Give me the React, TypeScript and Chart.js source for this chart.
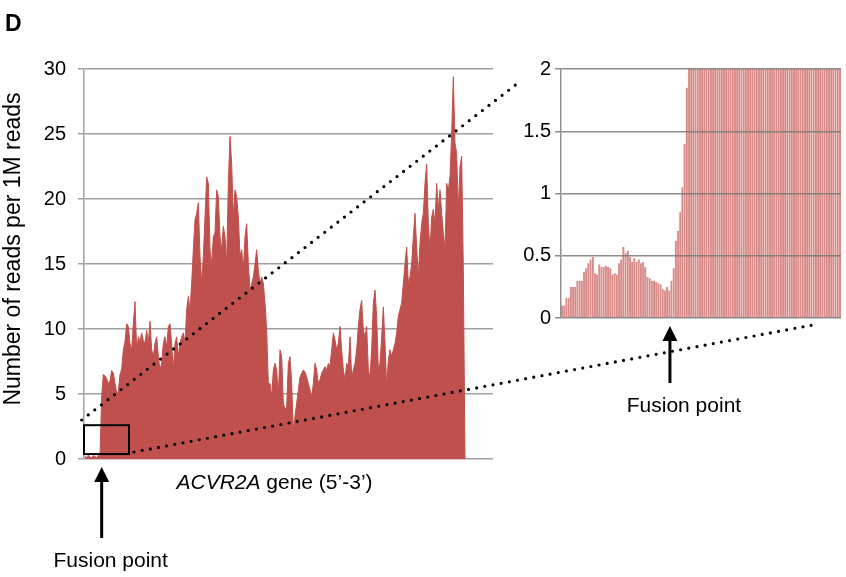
import React, { useEffect, useRef } from 'react';
import { Chart, registerables } from 'chart.js';
Chart.register(...registerables);

// ---- Data ----
// Coverage along ACVR2A (reads per 1M reads), equally spaced bins
const MAIN_VALUES = [
  0.2, 0.1, 0.3, 0.15, 0.1, 0.25, 0.2, 0.1, 0.3, 0.2,
  4.8, 6.5, 6.4, 6.2, 5.8, 6.0, 6.8, 6.6, 5.8, 5.1,
  5.2, 6.5, 6.9, 8.4, 9.0, 10.4, 10.2, 8.9, 8.4, 10.4,
  12.1, 8.4, 9.4, 9.0, 9.7, 9.1, 8.9, 9.9, 8.9, 10.6,
  8.4, 7.9, 8.9, 9.4, 7.9, 6.85, 7.4, 8.9, 9.4, 8.6,
  10.2, 10.4, 8.9, 6.85, 8.9, 9.4, 7.9, 8.9, 9.4, 9.7,
  8.9, 11.5, 12.5, 11.5, 13.5, 16.1, 18.4, 18.9, 19.7, 15.6,
  13.5, 15.6, 18.6, 21.7, 21.2, 16.1, 15.0, 17.1, 17.4, 20.7,
  20.2, 17.1, 16.1, 17.9, 17.1, 15.0, 21.2, 24.8, 22.7, 18.6,
  20.7, 20.2, 18.6, 15.6, 16.1, 14.5, 17.1, 18.1, 15.0, 13.0,
  13.5, 14.0, 15.0, 16.1, 14.5, 13.5, 14.0, 13.5, 12.0, 9.9,
  5.8, 5.8, 4.8, 6.85, 7.36, 6.85, 4.8, 8.4, 7.9, 4.3,
  3.8, 4.0, 7.36, 7.87, 5.8, 2.2, 3.3, 4.3, 5.3, 6.3,
  6.6, 6.85, 6.7, 6.3, 5.8, 5.3, 4.8, 5.8, 7.36, 6.85,
  5.8, 6.1, 6.6, 6.85, 7.1, 6.85, 7.36, 7.1, 8.4, 9.7,
  9.15, 8.4, 8.9, 10.2, 8.4, 6.85, 6.1, 7.36, 7.1, 9.4,
  6.3, 6.85, 7.36, 8.4, 10.2, 11.5, 12.2, 9.9, 9.4, 10.2,
  6.85, 6.3, 8.4, 12.0, 13.0, 11.0, 6.85, 7.36, 9.4, 11.7,
  8.9, 5.6, 7.6, 8.4, 7.9, 8.4, 8.9, 9.7, 11.0, 11.5,
  12.0, 13.5, 15.0, 16.3, 13.5, 14.0, 15.0, 17.1, 18.9, 16.3,
  14.0, 16.6, 18.1, 18.9, 21.2, 22.7, 18.1, 16.1, 18.6, 19.2,
  18.1, 21.2, 19.2, 20.7, 18.9, 17.4, 16.1, 21.2, 20.7, 21.7,
  25.0, 29.4, 24.3, 23.5, 19.2, 22.5, 23.3, 14.5, 0,
];
const MAIN_Y_TICKS = [0, 5, 10, 15, 20, 25, 30];

// Zoomed-in view of the 5' end (fusion region)
const INSET_VALUES = [
  0.1, 0.1, 0.16, 0.16, 0.25, 0.25, 0.25, 0.3, 0.3, 0.3,
  0.37, 0.4, 0.44, 0.47, 0.49, 0.36, 0.35, 0.43, 0.41, 0.41,
  0.42, 0.41, 0.4, 0.35, 0.36, 0.35, 0.44, 0.47, 0.57, 0.52,
  0.54, 0.49, 0.45, 0.48, 0.45, 0.47, 0.44, 0.45, 0.41, 0.33,
  0.32, 0.3, 0.3, 0.29, 0.28, 0.27, 0.23, 0.22, 0.25, 0.22,
  0.3, 0.4, 0.62, 0.7, 0.85, 1.05, 1.4, 1.85, 2.1, 2.6,
  3.1, 3.8, 4.4, 5.0, 5.5, 6.1, 5.9, 6.3, 6.0, 5.6,
  5.9, 6.4, 6.2, 6.6, 6.1, 5.8, 5.2, 5.5, 6.0, 6.4,
  6.8, 6.5, 6.1, 5.9, 5.4, 5.1, 5.6, 6.2, 6.5, 6.9,
  7.2, 6.8, 6.3, 6.0, 6.6, 7.0, 7.4, 7.1, 6.6, 6.2,
  6.5, 6.9, 7.3, 7.7, 7.2, 6.8, 7.0, 7.5, 7.9, 8.2,
  7.8, 7.4, 7.1, 7.6, 8.0, 8.4, 8.1, 7.7, 8.3, 8.8,
  9.2, 8.6, 8.1, 8.5, 9.0, 9.4, 9.1, 8.7,
];
const INSET_LABELS = INSET_VALUES.map((_, i) => String(i + 1));
const INSET_Y_TICKS = [0, 0.5, 1, 1.5, 2];

// Annotation anchors (in data units)
const FUSION_MAIN_INDEX = 10;
const FUSION_INSET_INDEX = 49.3;
const ZOOM_BOX = { x0: -0.6, x1: 26.4, y0: 0.38, y1: 2.6 };

const FONT = '"Liberation Sans", Arial, sans-serif';
const GRID = '#a0a0a0';
const MAIN_RED = '#c0504d';
const INSET_RED = 'rgb(215,138,136)';
const INSET_EDGE = 'rgba(246,214,212,0.9)';

function drawArrow(ctx: CanvasRenderingContext2D, x: number, tipY: number, bottomY: number) {
  ctx.save();
  ctx.setLineDash([]);
  ctx.strokeStyle = '#000';
  ctx.fillStyle = '#000';
  ctx.lineWidth = 3;
  ctx.lineCap = 'butt';
  ctx.beginPath();
  ctx.moveTo(x, bottomY);
  ctx.lineTo(x, tipY + 12);
  ctx.stroke();
  ctx.beginPath();
  ctx.moveTo(x, tipY);
  ctx.lineTo(x - 7.5, tipY + 15);
  ctx.lineTo(x + 7.5, tipY + 15);
  ctx.closePath();
  ctx.fill();
  ctx.restore();
}

function makeOverlay(main: Chart) {
  return {
    id: 'overlay',
    afterDraw(chart: any) {
      const ctx: CanvasRenderingContext2D = chart.ctx;
      const mx: any = main.scales.x;
      const my: any = main.scales.y;
      const ix: any = chart.scales.x;
      const iy: any = chart.scales.y;
      ctx.save();

      // zoom box on main chart
      const bx0 = mx.getPixelForValue(ZOOM_BOX.x0);
      const bx1 = mx.getPixelForValue(ZOOM_BOX.x1);
      const by0 = my.getPixelForValue(ZOOM_BOX.y0);
      const by1 = my.getPixelForValue(ZOOM_BOX.y1);
      ctx.strokeStyle = '#000';
      ctx.lineWidth = 2;
      ctx.strokeRect(bx0, by1, bx1 - bx0, by0 - by1);

      // dotted connector lines
      ctx.setLineDash([0, 8.3]);
      ctx.lineCap = 'round';
      ctx.lineWidth = 3.2;
      ctx.beginPath();
      ctx.moveTo(mx.getPixelForValue(-2), my.getPixelForValue(3.0));
      ctx.lineTo(ix.getPixelForValue(-18.5), iy.getPixelForValue(1.91));
      ctx.stroke();
      ctx.beginPath();
      ctx.moveTo(mx.getPixelForValue(29.4), my.getPixelForValue(0.54));
      ctx.lineTo(ix.getPixelForValue(116.5), iy.getPixelForValue(-0.05));
      ctx.stroke();
      ctx.setLineDash([]);

      // arrows
      const mArrowX = mx.getPixelForValue(FUSION_MAIN_INDEX);
      const mBase = my.getPixelForValue(0);
      drawArrow(ctx, mArrowX, mBase + 8, mBase + 79);
      const iArrowX = ix.getPixelForValue(FUSION_INSET_INDEX);
      const iBase = iy.getPixelForValue(0);
      drawArrow(ctx, iArrowX, iBase + 8, iBase + 65);

      // texts
      ctx.fillStyle = '#000';
      ctx.textBaseline = 'alphabetic';
      ctx.textAlign = 'center';
      ctx.font = `21px ${FONT}`;
      ctx.fillText('Fusion point', mArrowX + 9, mBase + 108);
      ctx.fillText('Fusion point', iArrowX + 14, iBase + 94);

      // x title with italic gene name
      const part1 = 'ACVR2A';
      const part2 = ' gene (5\u2019-3\u2019)';
      ctx.font = `italic 21px ${FONT}`;
      const w1 = ctx.measureText(part1).width;
      ctx.font = `21px ${FONT}`;
      const w2 = ctx.measureText(part2).width;
      const cx = (mx.left + mx.right) / 2 - 14;
      const startX = cx - (w1 + w2) / 2;
      ctx.textAlign = 'left';
      ctx.font = `italic 21px ${FONT}`;
      ctx.fillText(part1, startX, mBase + 30);
      ctx.font = `21px ${FONT}`;
      ctx.fillText(part2, startX + w1, mBase + 30);

      // y title
      ctx.save();
      ctx.translate(14, 249);
      ctx.rotate(-Math.PI / 2);
      ctx.textAlign = 'center';
      ctx.textBaseline = 'middle';
      ctx.font = `23px ${FONT}`;
      ctx.fillText('Number of reads per 1M reads', 0, 0);
      ctx.restore();

      // panel letter
      ctx.textAlign = 'left';
      ctx.textBaseline = 'alphabetic';
      ctx.font = `bold 23px ${FONT}`;
      ctx.fillText('D', 5, 31);

      ctx.restore();
    },
  };
}

export default function App() {
  const mainRef = useRef<HTMLCanvasElement>(null);
  const insetRef = useRef<HTMLCanvasElement>(null);

  useEffect(() => {
    const main = new Chart(mainRef.current as HTMLCanvasElement, {
      type: 'line',
      data: {
        datasets: [
          {
            data: MAIN_VALUES.map((v, i) => ({ x: i, y: v })),
            fill: 'origin',
            backgroundColor: MAIN_RED,
            borderColor: MAIN_RED,
            borderWidth: 1,
            pointRadius: 0,
            tension: 0,
          },
        ],
      },
      options: {
        responsive: false,
        animation: false,
        layout: { padding: { left: 0, top: 69, right: 353, bottom: 118 } },
        plugins: { legend: { display: false }, tooltip: { enabled: false } },
        scales: {
          x: { type: 'linear', min: -0.6, max: 244.8, display: false },
          y: {
            min: 0,
            max: 30,
            afterBuildTicks: (s: any) => {
              s.ticks = MAIN_Y_TICKS.map((v) => ({ value: v }));
            },
            afterFit: (s: any) => {
              s.width = 84;
            },
            grid: { color: GRID, lineWidth: 1.5, tickLength: 6, drawTicks: true },
            border: { color: GRID, width: 1.5 },
            ticks: { padding: 12, color: '#000', font: { family: FONT, size: 20 } },
          },
        },
      },
    } as any);

    const inset = new Chart(insetRef.current as HTMLCanvasElement, {
      type: 'bar',
      data: {
        labels: INSET_LABELS,
        datasets: [
          {
            data: INSET_VALUES,
            backgroundColor: INSET_RED,
            borderColor: INSET_EDGE,
            borderWidth: { left: 0.6, right: 0, top: 0, bottom: 0 },
            borderSkipped: false,
            barPercentage: 1,
            categoryPercentage: 1,
            clip: 0,
          } as any,
        ],
      },
      options: {
        responsive: false,
        animation: false,
        layout: { padding: { left: 0, top: 69, right: 5, bottom: 259 } },
        plugins: { legend: { display: false }, tooltip: { enabled: false } },
        scales: {
          x: { display: false },
          y: {
            min: 0,
            max: 2,
            afterBuildTicks: (s: any) => {
              s.ticks = INSET_Y_TICKS.map((v) => ({ value: v }));
            },
            afterFit: (s: any) => {
              s.width = 561;
            },
            grid: { color: 'rgba(120,120,120,0.85)', lineWidth: 1.5, tickLength: 6, drawTicks: true, z: 1 },
            border: { color: '#909090', width: 1.5, z: 1 },
            ticks: {
              padding: 4,
              color: '#000',
              font: { family: FONT, size: 20 },
              callback: (v: any) => String(v),
            },
          },
        },
      },
      plugins: [makeOverlay(main)],
    } as any);

    return () => {
      inset.destroy();
      main.destroy();
    };
  }, []);

  return (
    <div style={{ position: 'absolute', left: 0, top: 0, width: 846, height: 577, background: '#fff' }}>
      <canvas ref={mainRef} width={846} height={577} style={{ position: 'absolute', left: 0, top: 0 }} />
      <canvas ref={insetRef} width={846} height={577} style={{ position: 'absolute', left: 0, top: 0 }} />
    </div>
  );
}
